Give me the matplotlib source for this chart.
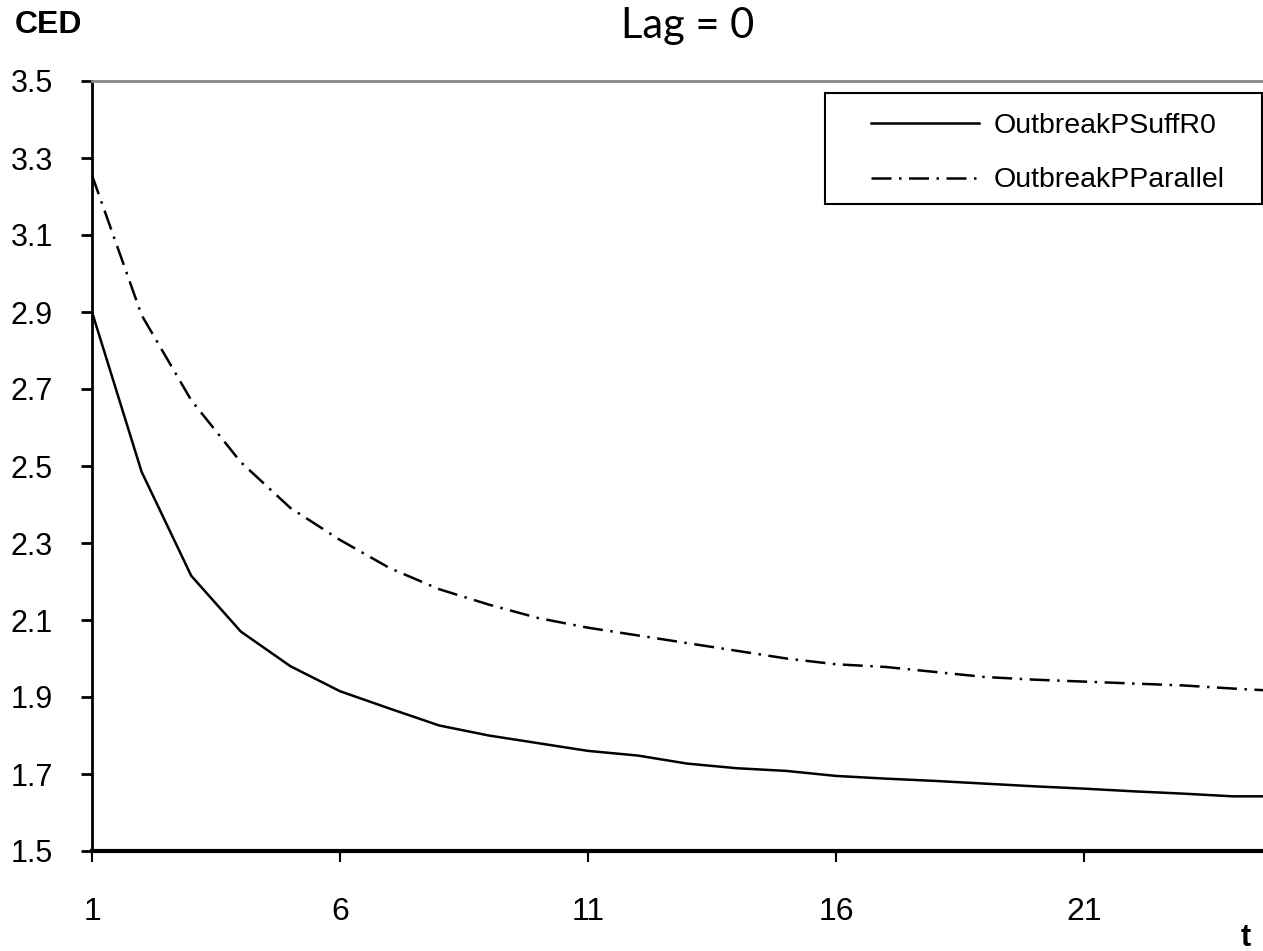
import matplotlib
matplotlib.use("Agg")
import matplotlib.pyplot as plt
from matplotlib.patches import Rectangle

t = list(range(1, 26))
suff_r0 = [2.90, 2.485, 2.215, 2.07, 1.98, 1.915, 1.87, 1.826, 1.80, 1.78, 1.76, 1.748,
           1.727, 1.715, 1.708, 1.695, 1.688, 1.682, 1.675, 1.668, 1.662, 1.655, 1.649, 1.642, 1.642]
parallel = [3.255, 2.892, 2.671, 2.51, 2.391, 2.308, 2.235, 2.18, 2.14, 2.105, 2.08, 2.06,
            2.04, 2.02, 2.00, 1.985, 1.978, 1.965, 1.952, 1.945, 1.94, 1.935, 1.93, 1.922, 1.915]
series_names = ["OutbreakPSuffR0", "OutbreakPParallel"]
x_ticks = [1, 6, 11, 16, 21]
y_ticks = [1.5, 1.7, 1.9, 2.1, 2.3, 2.5, 2.7, 2.9, 3.1, 3.3, 3.5]

W, H = 1263, 951
fig = plt.figure(figsize=(W / 100, H / 100), dpi=100)
ax = fig.add_axes([92 / W, (H - 851) / H, 1 - 92 / W, (851 - 81) / H])

font = "Liberation Sans"
ax.plot(t, suff_r0, color="black", lw=1.8, solid_joinstyle="round", label=series_names[0])
ax.plot(t, parallel, color="black", lw=1.8, linestyle=(0, (8, 3, 1, 3)), label=series_names[1])

ax.set_xlim(1, 1 + (W - 92) / 49.6)
ax.set_ylim(1.5, 3.5)
ax.set_xticks(x_ticks)
ax.set_yticks(y_ticks)
ax.set_xticklabels([str(v) for v in x_ticks], fontfamily=font, fontsize=23)
ax.set_yticklabels([f"{v:.1f}" for v in y_ticks], fontfamily=font, fontsize=22)
ax.tick_params(axis="y", direction="out", length=8, width=2, pad=20)
ax.tick_params(axis="x", direction="out", length=8, width=1.5, pad=25)

ax.spines["right"].set_visible(False)
ax.spines["top"].set_color("#888888")
ax.spines["top"].set_linewidth(2)
ax.spines["left"].set_linewidth(2)
ax.spines["bottom"].set_linewidth(3)

# legend frame drawn separately to match the reference's wide side padding
frame = Rectangle((825 / W, 1 - 204 / H), (1262 - 825) / W, (204 - 93) / H,
                  transform=fig.transFigure, fill=True, facecolor="white",
                  edgecolor="black", linewidth=1.5, zorder=5, clip_on=False)
ax.add_artist(frame)
leg = ax.legend(loc="upper left", bbox_to_anchor=(871 / W, 1 - 113 / H),
                bbox_transform=fig.transFigure, prop={"family": font, "size": 20.5},
                frameon=False, handlelength=3.8, handletextpad=0.5,
                borderpad=0, labelspacing=1.0, borderaxespad=0)
leg.set_zorder(6)

fig.text(688 / W, 1 - 38 / H, "Lag = 0", fontfamily="Lato", fontsize=30, ha="center", va="baseline")
fig.text(15 / W, 1 - 33 / H, "CED", fontfamily=font, fontsize=23, fontweight="bold", ha="left", va="baseline")
fig.text(1246 / W, 1 - 946 / H, "t", fontfamily=font, fontsize=22, fontweight="bold", ha="center", va="baseline")

fig.savefig("out.png", dpi=100)
